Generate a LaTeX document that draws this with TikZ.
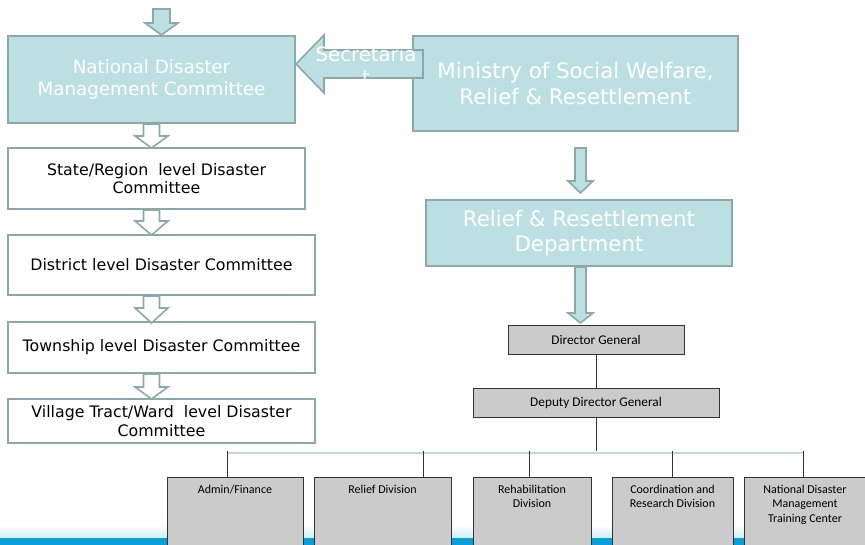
\documentclass[tikz,border=0pt]{standalone}
\usepackage{fontspec}
\usetikzlibrary{calc}
\newfontfamily\dvfont{DejaVu Sans}
\newfontfamily\cbfont{Carlito}
\definecolor{tealfill}{HTML}{BCE0E2}
\definecolor{tealedge}{HTML}{8BA8AA}
\definecolor{boxgrey}{HTML}{CBCBCB}
\definecolor{edgedark}{HTML}{333333}
\definecolor{busline}{HTML}{BFD9DC}
\definecolor{bandblue}{HTML}{0A9ED8}
\definecolor{bandfade}{HTML}{D2F0F5}

\tikzset{
  tealbox/.style={rectangle, draw=tealedge, line width=2pt, fill=tealfill,
    text=white, inner sep=0pt, align=center},
  levelbox/.style={rectangle, draw=tealedge, line width=2pt, fill=white,
    text=black, inner sep=0pt, align=center,
    font=\dvfont\fontsize{15.8}{18.5}\selectfont},
  officebox/.style={rectangle, draw=edgedark, line width=0.9pt, fill=boxgrey,
    inner sep=0pt, align=center, font=\cbfont\fontsize{13.3}{16}\selectfont},
  divbox/.style={rectangle, draw=edgedark, line width=0.9pt, fill=boxgrey,
    inner sep=0pt, anchor=north},
  divlabel/.style={inner sep=0pt, align=center, anchor=north,
    font=\cbfont\fontsize{12}{14.5}\selectfont},
  link/.style={draw=edgedark, line width=1pt},
  bus/.style={draw=busline, line width=1.2pt},
  hollowarrow/.style={draw=tealedge, line width=1.6pt, fill=white},
  tealarrow/.style={draw=tealedge, line width=1.6pt, fill=tealfill},
  % block arrow pointing down: shaft length / head length / shaft half width / head half width
  pics/downarrow/.style args={#1/#2/#3/#4}{code={
    \path[pic actions] (-#3,0) -- (-#3,#1) -- (-#4,#1) -- (0,#1+#2)
      -- (#4,#1) -- (#3,#1) -- (#3,0) -- cycle;}},
  % block arrow pointing left, origin at the tip
  pics/leftarrow/.style args={#1/#2/#3/#4}{code={
    \path[pic actions] (0,0) -- (#2,-#4) -- (#2,-#3) -- (#1+#2,-#3)
      -- (#1+#2,#3) -- (#2,#3) -- (#2,#4) -- cycle;}},
}

\begin{document}
\begin{tikzpicture}[x=1pt,y=-1pt]
\clip (0,0) rectangle (865,545);

% bottom band
\fill[bandblue] (0,537) rectangle (865,545);
\shade[top color=white, bottom color=bandfade] (0,525) rectangle (865,537);

% committee chain
\node[tealbox, minimum width=287pt, minimum height=87pt,
  font=\dvfont\fontsize{18.3}{21.5}\selectfont] (ndmc) at (151.5,79.5)
  {National Disaster\\Management Committee};
\pic[tealarrow] at (161.5,9) {downarrow=14/12/8.5/16.5};

\node[levelbox, minimum width=297pt, minimum height=61pt] (state) at (156.5,178.5)
  {State/Region\ \ level Disaster\\Committee};
\node[levelbox, minimum width=307pt, minimum height=60pt] (district) at (161.5,265)
  {District level Disaster Committee};
\node[levelbox, minimum width=307pt, minimum height=51pt] (township) at (161.5,347.5)
  {Township level Disaster Committee};
\node[levelbox, minimum width=307pt, minimum height=44pt] (village) at (161.5,421)
  {Village Tract/Ward\ \ level Disaster\\Committee};

\pic[hollowarrow] at (ndmc.south) {downarrow=12/12/8/16.5};
\pic[hollowarrow] at (ndmc.south |- state.south) {downarrow=11/14/8/16.5};
\pic[hollowarrow] at (ndmc.south |- district.south) {downarrow=12/15/8/16.5};
\pic[hollowarrow] at (ndmc.south |- township.south) {downarrow=13/12/8/16.5};

% ministry side
\node[tealbox, minimum width=325pt, minimum height=95pt,
  font=\dvfont\fontsize{21.3}{26}\selectfont] (ministry) at (575.5,83.5)
  {Ministry of Social Welfare,\\Relief \& Resettlement};
\pic[tealarrow] at ($(ndmc.east)+(0,-15.5)$) {leftarrow=99/28/14/29};
\node[text=white, inner sep=0pt, align=center,
  font=\dvfont\fontsize{19.7}{23}\selectfont] (sec) at (366,65.5) {Secretaria\\t};

\node[tealbox, minimum width=306pt, minimum height=66pt,
  font=\dvfont\fontsize{21.3}{25}\selectfont] (rrd) at (579,233)
  {Relief \& Resettlement\\Department};
\pic[tealarrow] at (580.5,148) {downarrow=33/12/5.5/12.5};
\pic[tealarrow] at ($(rrd.south)+(1.5,0)$) {downarrow=46/10/5.5/12.5};

% department hierarchy
\node[officebox, minimum width=176pt, minimum height=29pt] (dg) at (596,339.5)
  {Director General};
\node[officebox, minimum width=246pt, minimum height=29pt] (ddg) at (596,402.5)
  {Deputy Director General};
\draw[link] (dg) -- (ddg);
\coordinate (junction) at (596,451);
\draw[link] (ddg) -- (junction);

\coordinate (busL) at (227,453);
\coordinate (busR) at (803,453);
\draw[bus] (busL) -- (busR);

% divisions
\node[divbox, minimum width=136pt, minimum height=72pt] (admin) at (235,477) {};
\node[divbox, minimum width=137pt, minimum height=72pt] (relief) at (382.5,477) {};
\node[divbox, minimum width=118pt, minimum height=72pt] (rehab) at (532,477) {};
\node[divbox, minimum width=121pt, minimum height=72pt] (coord) at (672.5,477) {};
\node[divbox, minimum width=122pt, minimum height=72pt] (ndmtc) at (805,477) {};

\node[divlabel] at ($(admin.north)+(0,7.5)$) {Admin/Finance};
\node[divlabel] at ($(relief.north)+(0,7.5)$) {Relief Division};
\node[divlabel] at ($(rehab.north)+(0,7.5)$) {Rehabilitation\\Division};
\node[divlabel] at ($(coord.north)+(0,7.5)$) {Coordination and\\Research Division};
\node[divlabel] at ($(ndmtc.north)+(0,7.5)$) {National Disaster\\Management\\Training Center};

\coordinate (t1) at (227,451);
\coordinate (t2) at (423,451);
\coordinate (t3) at (529,451);
\coordinate (t4) at (672,451);
\coordinate (t5) at (803,451);
\draw[link] (t1) -- (t1 |- admin.north);
\draw[link] (t2) -- (t2 |- relief.north);
\draw[link] (t3) -- (t3 |- rehab.north);
\draw[link] (t4) -- (t4 |- coord.north);
\draw[link] (t5) -- (t5 |- ndmtc.north);
\end{tikzpicture}
\end{document}
